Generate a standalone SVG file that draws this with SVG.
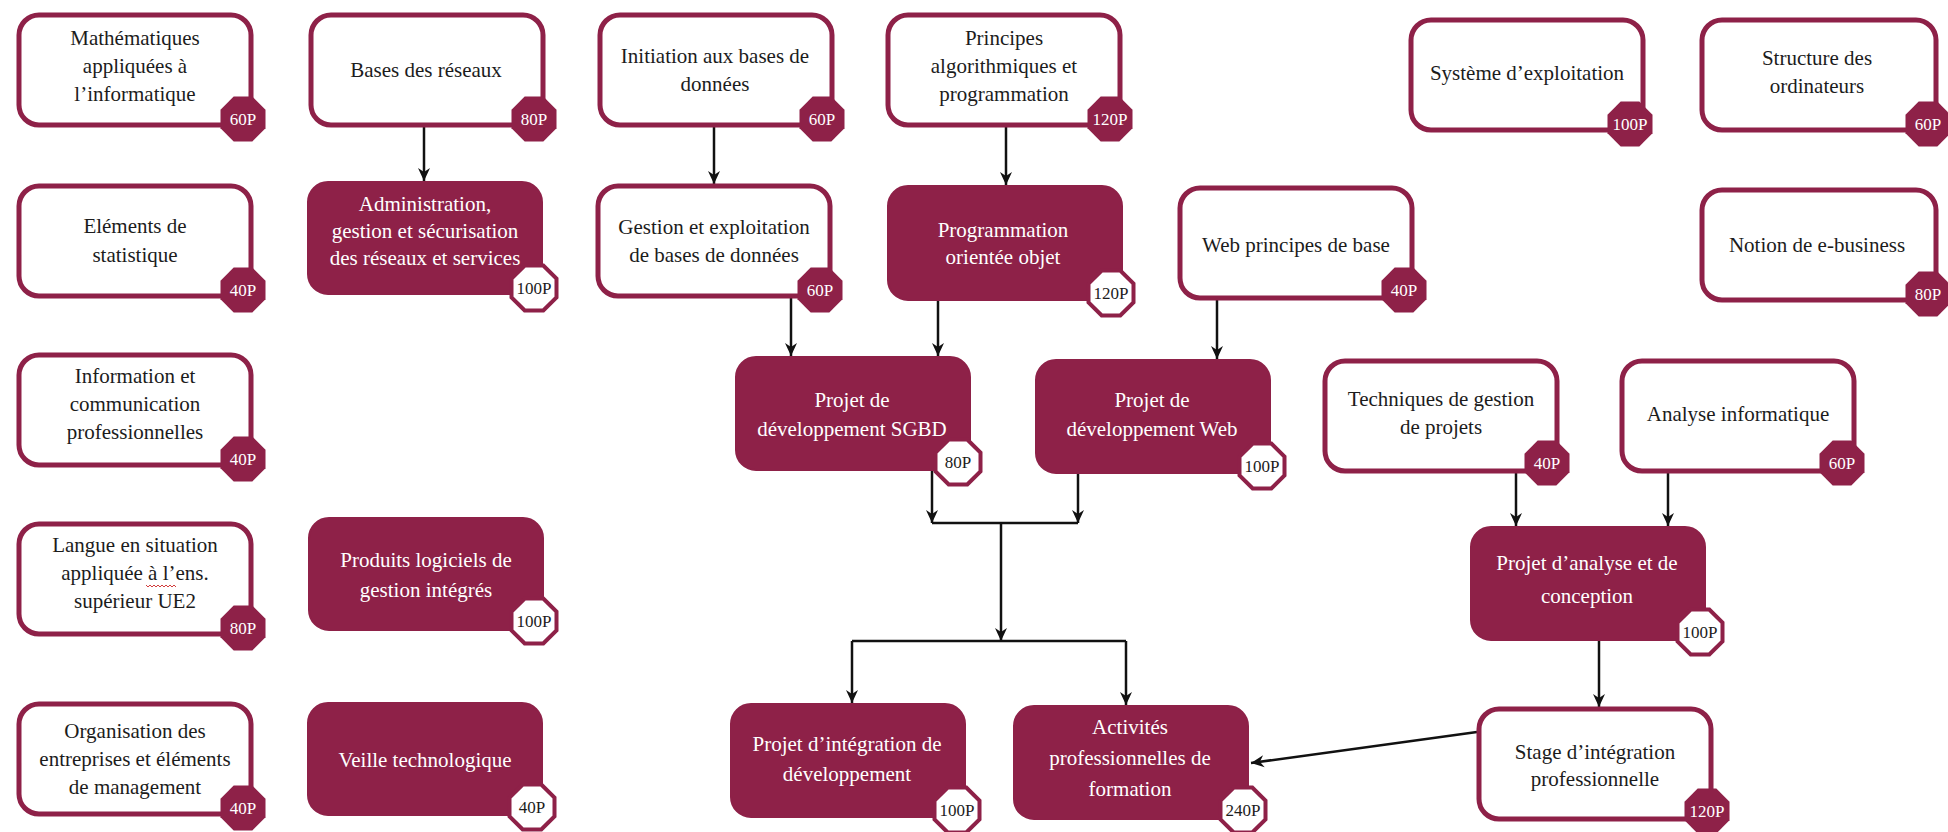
<svg xmlns="http://www.w3.org/2000/svg" xmlns:xlink="http://www.w3.org/1999/xlink" width="1948" height="832" viewBox="0 0 1948 832">
  <style>
    .box { fill: #ffffff; stroke: #8e2148; stroke-width: 5; }
    .box-f { fill: #8e2148; stroke: #8e2148; stroke-width: 2; }
    .lbl { font-family: "Liberation Serif", "DejaVu Serif", serif; font-size: 21px; text-anchor: middle; fill: #1c1c1c; }
    .lbl-f { fill: #ffffff; }
    .bdg { fill: #8e2148; }
    .bdg-w { fill: #ffffff; stroke: #8e2148; stroke-width: 4; }
    .bt { font-family: "Liberation Serif", "DejaVu Serif", serif; font-size: 17px; text-anchor: middle; fill: #ffffff; }
    .bt-w { fill: #1c1c1c; }
    .wire { fill: none; stroke: #111111; stroke-width: 2.5; }
    .arr { marker-end: url(#tip); }
    .spell { fill: none; stroke: #d23c3c; stroke-width: 1; }
  </style>
  <defs>
    <polygon id="oct" points="-9.3,-22.5 9.3,-22.5 22.5,-9.3 22.5,9.3 9.3,22.5 -9.3,22.5 -22.5,9.3 -22.5,-9.3"/>
    <marker id="tip" markerUnits="userSpaceOnUse" markerWidth="16" markerHeight="14" viewBox="-14 -7 16 14" refX="0" refY="0" orient="auto">
      <path d="M -13 -6 L 0 0 L -13 6 L -9 0 Z" fill="#111111"/>
    </marker>
  </defs>

  <rect x="0" y="0" width="1948" height="832" fill="#ffffff"/>

  <!-- connectors -->
  <g id="connectors">
    <path class="wire arr" d="M424,127 V181"/>
    <path class="wire arr" d="M714,127 V184"/>
    <path class="wire arr" d="M1006,127 V185"/>
    <path class="wire arr" d="M791,298 V356"/>
    <path class="wire arr" d="M938,299 V356"/>
    <path class="wire arr" d="M1217,300 V359"/>
    <path class="wire arr" d="M932,470 V523"/>
    <path class="wire arr" d="M1078,473 V523"/>
    <path class="wire" d="M932,523 H1078"/>
    <path class="wire arr" d="M1001,523 V641"/>
    <path class="wire" d="M852,641 H1126"/>
    <path class="wire arr" d="M852,641 V703"/>
    <path class="wire arr" d="M1126,641 V705"/>
    <path class="wire arr" d="M1516,473 V526"/>
    <path class="wire arr" d="M1668,473 V526"/>
    <path class="wire arr" d="M1599,640 V707"/>
    <path class="wire arr" d="M1477,732 L1251,763"/>
  </g>

  <!-- column 1 -->
  <g id="n-maths">
    <rect class="box" x="19" y="15" width="232" height="110" rx="20"/>
    <text class="lbl" x="135" y="45">Mathématiques</text>
    <text class="lbl" x="135" y="73">appliquées à</text>
    <text class="lbl" x="135" y="101">l’informatique</text>
    <use href="#oct" class="bdg" x="243" y="119"/>
    <text class="bt" x="243" y="125">60P</text>
  </g>
  <g id="n-stat">
    <rect class="box" x="19" y="186" width="232" height="110" rx="20"/>
    <text class="lbl" x="135" y="233">Eléments de</text>
    <text class="lbl" x="135" y="262">statistique</text>
    <use href="#oct" class="bdg" x="243" y="290"/>
    <text class="bt" x="243" y="296">40P</text>
  </g>
  <g id="n-info-com">
    <rect class="box" x="19" y="355" width="232" height="110" rx="20"/>
    <text class="lbl" x="135" y="383">Information et</text>
    <text class="lbl" x="135" y="411">communication</text>
    <text class="lbl" x="135" y="439">professionnelles</text>
    <use href="#oct" class="bdg" x="243" y="459"/>
    <text class="bt" x="243" y="465">40P</text>
  </g>
  <g id="n-langue">
    <rect class="box" x="19" y="524" width="232" height="110" rx="20"/>
    <text class="lbl" x="135" y="552">Langue en situation</text>
    <text class="lbl" x="135" y="580">appliquée à l’ens.</text>
    <text class="lbl" x="135" y="608">supérieur UE2</text>
    <path class="spell" d="M146,585 l2,2 l2,-2 l2,2 l2,-2 l2,2 l2,-2 l2,2 l2,-2 l2,2 l2,-2 l2,2 l2,-2 l2,2 l2,-2 l2,2"/>
    <use href="#oct" class="bdg" x="243" y="628"/>
    <text class="bt" x="243" y="634">80P</text>
  </g>
  <g id="n-orga">
    <rect class="box" x="19" y="704" width="232" height="110" rx="20"/>
    <text class="lbl" x="135" y="738">Organisation des</text>
    <text class="lbl" x="135" y="766">entreprises et éléments</text>
    <text class="lbl" x="135" y="794">de management</text>
    <use href="#oct" class="bdg" x="243" y="808"/>
    <text class="bt" x="243" y="814">40P</text>
  </g>

  <!-- column 2 -->
  <g id="n-reseaux">
    <rect class="box" x="311" y="15" width="232" height="110" rx="20"/>
    <text class="lbl" x="426" y="77">Bases des réseaux</text>
    <use href="#oct" class="bdg" x="534" y="119"/>
    <text class="bt" x="534" y="125">80P</text>
  </g>
  <g id="n-admin">
    <rect class="box-f" x="308" y="182" width="234" height="112" rx="20"/>
    <text class="lbl lbl-f" x="425" y="211">Administration,</text>
    <text class="lbl lbl-f" x="425" y="238">gestion et sécurisation</text>
    <text class="lbl lbl-f" x="425" y="265">des réseaux et services</text>
    <use href="#oct" class="bdg-w" x="534" y="288"/>
    <text class="bt bt-w" x="534" y="294">100P</text>
  </g>
  <g id="n-pgi">
    <rect class="box-f" x="309" y="518" width="234" height="112" rx="20"/>
    <text class="lbl lbl-f" x="426" y="567">Produits logiciels de</text>
    <text class="lbl lbl-f" x="426" y="597">gestion intégrés</text>
    <use href="#oct" class="bdg-w" x="534" y="621"/>
    <text class="bt bt-w" x="534" y="627">100P</text>
  </g>
  <g id="n-veille">
    <rect class="box-f" x="308" y="703" width="234" height="112" rx="20"/>
    <text class="lbl lbl-f" x="425" y="767">Veille technologique</text>
    <use href="#oct" class="bdg-w" x="532" y="807"/>
    <text class="bt bt-w" x="532" y="813">40P</text>
  </g>

  <!-- column 3 -->
  <g id="n-init-bd">
    <rect class="box" x="600" y="15" width="232" height="110" rx="20"/>
    <text class="lbl" x="715" y="63">Initiation aux bases de</text>
    <text class="lbl" x="715" y="91">données</text>
    <use href="#oct" class="bdg" x="822" y="119"/>
    <text class="bt" x="822" y="125">60P</text>
  </g>
  <g id="n-gestion-bd">
    <rect class="box" x="598" y="186" width="232" height="110" rx="20"/>
    <text class="lbl" x="714" y="234">Gestion et exploitation</text>
    <text class="lbl" x="714" y="262">de bases de données</text>
    <use href="#oct" class="bdg" x="820" y="290"/>
    <text class="bt" x="820" y="296">60P</text>
  </g>

  <!-- column 4 -->
  <g id="n-algo">
    <rect class="box" x="888" y="15" width="232" height="110" rx="20"/>
    <text class="lbl" x="1004" y="45">Principes</text>
    <text class="lbl" x="1004" y="73">algorithmiques et</text>
    <text class="lbl" x="1004" y="101">programmation</text>
    <use href="#oct" class="bdg" x="1110" y="119"/>
    <text class="bt" x="1110" y="125">120P</text>
  </g>
  <g id="n-poo">
    <rect class="box-f" x="888" y="186" width="234" height="114" rx="20"/>
    <text class="lbl lbl-f" x="1003" y="237">Programmation</text>
    <text class="lbl lbl-f" x="1003" y="264">orientée objet</text>
    <use href="#oct" class="bdg-w" x="1111" y="293"/>
    <text class="bt bt-w" x="1111" y="299">120P</text>
  </g>

  <!-- projects -->
  <g id="n-proj-sgbd">
    <rect class="box-f" x="736" y="357" width="234" height="113" rx="20"/>
    <text class="lbl lbl-f" x="852" y="407">Projet de</text>
    <text class="lbl lbl-f" x="852" y="436">développement SGBD</text>
    <use href="#oct" class="bdg-w" x="958" y="462"/>
    <text class="bt bt-w" x="958" y="468">80P</text>
  </g>
  <g id="n-proj-web">
    <rect class="box-f" x="1036" y="360" width="234" height="113" rx="20"/>
    <text class="lbl lbl-f" x="1152" y="407">Projet de</text>
    <text class="lbl lbl-f" x="1152" y="436">développement Web</text>
    <use href="#oct" class="bdg-w" x="1262" y="466"/>
    <text class="bt bt-w" x="1262" y="472">100P</text>
  </g>
  <g id="n-proj-integ">
    <rect class="box-f" x="731" y="704" width="234" height="113" rx="20"/>
    <text class="lbl lbl-f" x="847" y="751">Projet d’intégration de</text>
    <text class="lbl lbl-f" x="847" y="781">développement</text>
    <use href="#oct" class="bdg-w" x="957" y="810"/>
    <text class="bt bt-w" x="957" y="816">100P</text>
  </g>
  <g id="n-activites">
    <rect class="box-f" x="1014" y="706" width="234" height="113" rx="20"/>
    <text class="lbl lbl-f" x="1130" y="734">Activités</text>
    <text class="lbl lbl-f" x="1130" y="765">professionnelles de</text>
    <text class="lbl lbl-f" x="1130" y="796">formation</text>
    <use href="#oct" class="bdg-w" x="1243" y="810"/>
    <text class="bt bt-w" x="1243" y="816">240P</text>
  </g>

  <!-- column 5 -->
  <g id="n-web">
    <rect class="box" x="1180" y="188" width="232" height="110" rx="20"/>
    <text class="lbl" x="1296" y="252">Web principes de base</text>
    <use href="#oct" class="bdg" x="1404" y="290"/>
    <text class="bt" x="1404" y="296">40P</text>
  </g>
  <g id="n-tech-proj">
    <rect class="box" x="1325" y="361" width="232" height="110" rx="20"/>
    <text class="lbl" x="1441" y="406">Techniques de gestion</text>
    <text class="lbl" x="1441" y="434">de projets</text>
    <use href="#oct" class="bdg" x="1547" y="463"/>
    <text class="bt" x="1547" y="469">40P</text>
  </g>
  <g id="n-analyse">
    <rect class="box" x="1622" y="361" width="232" height="110" rx="20"/>
    <text class="lbl" x="1738" y="421">Analyse informatique</text>
    <use href="#oct" class="bdg" x="1842" y="463"/>
    <text class="bt" x="1842" y="469">60P</text>
  </g>
  <g id="n-proj-analyse">
    <rect class="box-f" x="1471" y="527" width="234" height="113" rx="20"/>
    <text class="lbl lbl-f" x="1587" y="570">Projet d’analyse et de</text>
    <text class="lbl lbl-f" x="1587" y="603">conception</text>
    <use href="#oct" class="bdg-w" x="1700" y="632"/>
    <text class="bt bt-w" x="1700" y="638">100P</text>
  </g>
  <g id="n-stage">
    <rect class="box" x="1479" y="709" width="232" height="110" rx="20"/>
    <text class="lbl" x="1595" y="759">Stage d’intégration</text>
    <text class="lbl" x="1595" y="786">professionnelle</text>
    <use href="#oct" class="bdg" x="1707" y="811"/>
    <text class="bt" x="1707" y="817">120P</text>
  </g>

  <!-- column 6 -->
  <g id="n-os">
    <rect class="box" x="1411" y="20" width="232" height="110" rx="20"/>
    <text class="lbl" x="1527" y="80">Système d’exploitation</text>
    <use href="#oct" class="bdg" x="1630" y="124"/>
    <text class="bt" x="1630" y="130">100P</text>
  </g>
  <g id="n-struct">
    <rect class="box" x="1702" y="20" width="234" height="110" rx="20"/>
    <text class="lbl" x="1817" y="65">Structure des</text>
    <text class="lbl" x="1817" y="93">ordinateurs</text>
    <use href="#oct" class="bdg" x="1928" y="124"/>
    <text class="bt" x="1928" y="130">60P</text>
  </g>
  <g id="n-ebusiness">
    <rect class="box" x="1702" y="190" width="234" height="110" rx="20"/>
    <text class="lbl" x="1817" y="252">Notion de e-business</text>
    <use href="#oct" class="bdg" x="1928" y="294"/>
    <text class="bt" x="1928" y="300">80P</text>
  </g>
</svg>
